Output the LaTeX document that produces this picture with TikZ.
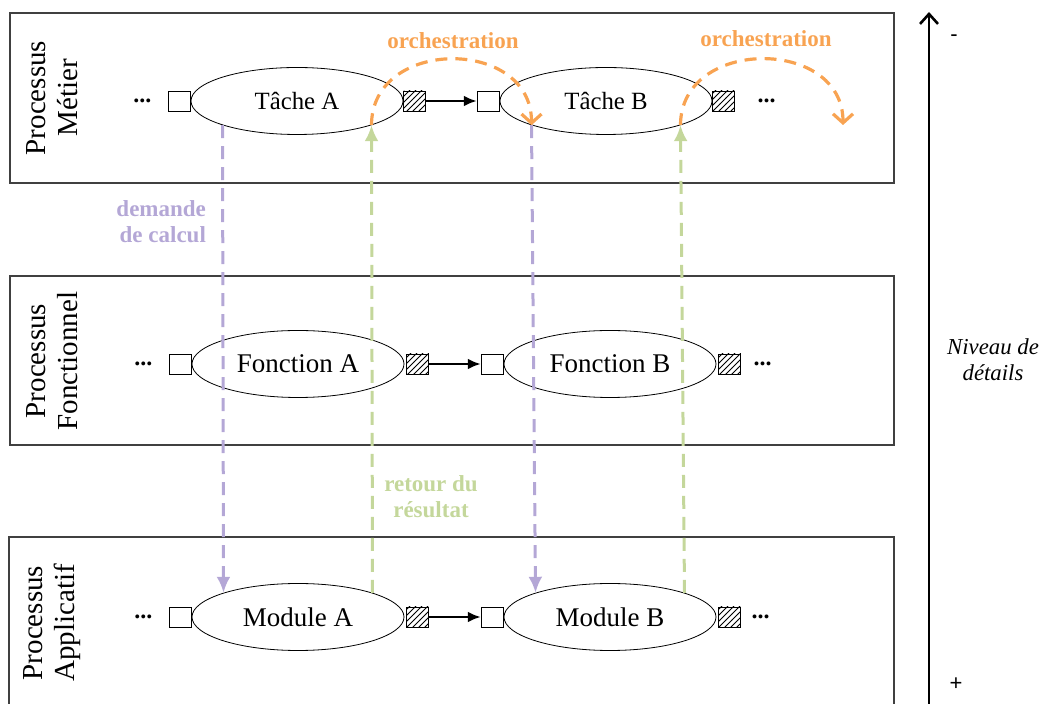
\documentclass[tikz,border=0pt]{standalone}
\usepackage{fontspec}
\setmainfont{Liberation Serif}
\newfontfamily\signes{Liberation Sans}
\usetikzlibrary{shapes.geometric,patterns,arrows.meta,positioning}
\definecolor{calcul}{RGB}{180,167,214}
\definecolor{retour}{RGB}{196,215,155}
\definecolor{orchestre}{RGB}{248,163,82}
\definecolor{cadre}{RGB}{64,64,64}

\begin{document}
\begin{tikzpicture}[x=0.5pt,y=-0.5pt,
  couche/.style={draw=cadre,line width=0.6pt},
  tache/.style={draw,ellipse,minimum width=106pt,minimum height=33.5pt,inner sep=0pt},
  entree/.style={draw,fill=white,minimum width=11pt,minimum height=10pt,inner sep=0pt},
  sortie/.style={draw,pattern=north east lines,minimum width=11pt,minimum height=10pt,inner sep=0pt},
  suite/.style={inner sep=0pt,font=\bfseries\fontsize{12}{14}\selectfont},
  enchainement/.style={-{Latex[length=6.5pt,width=5.5pt]},line width=1.4pt},
  demande/.style={calcul,line width=1.5pt,dash pattern=on 6.5pt off 4pt,-{Latex[length=8pt,width=7pt]}},
  resultat/.style={retour,line width=1.5pt,dash pattern=on 6.5pt off 4pt,-{Latex[length=8pt,width=7pt]}},
  orch/.style={orchestre,line width=1.6pt,dash pattern=on 6pt off 4pt,-{Straight Barb[length=4.5pt,width=10pt,line width=1.6pt]}},
  etiquette/.style={font=\bfseries\fontsize{11.5}{13}\selectfont}]
\useasboundingbox (0,0) rectangle (1044,704);

% the three layers
\draw[couche] (10,13) rectangle (894,183);
\draw[couche] (10,276) rectangle (894,445);
\draw[couche] (9,704) -- (9,537) -- (894,537) -- (894,704);
\node[rotate=90,align=center,font=\fontsize{14.5}{16}\selectfont] (metier) at (52,98) {Processus\\Métier};
\node[rotate=90,align=center,font=\fontsize{14.5}{16}\selectfont] (fonctionnel) at (52,361) {Processus\\Fonctionnel};
\node[rotate=90,align=center,font=\fontsize{14.5}{16}\selectfont] (applicatif) at (52,623) {Processus\\Applicatif};

% business tasks
\node[tache,font=\fontsize{12.4}{14}\selectfont] (ta) at (297,101) {Tâche A};
\node[tache,font=\fontsize{12.4}{14}\selectfont] (tb) at (606,101) {Tâche B};
\node[entree,left=0pt of ta] (ta-in) {};
\node[sortie,right=0pt of ta] (ta-out) {};
\node[entree,left=0pt of tb] (tb-in) {};
\node[sortie,right=0pt of tb] (tb-out) {};
\node[suite,left=8pt of ta-in] (t-avant) {...};
\node[suite,right=11pt of tb-out] (t-apres) {...};
\draw[enchainement] (ta-out) -- (tb-in);

% functions
\node[tache,font=\fontsize{13.5}{15}\selectfont] (fa) at (298,364) {Fonction A};
\node[tache,font=\fontsize{13.5}{15}\selectfont] (fb) at (610,364) {Fonction B};
\node[entree,left=0pt of fa] (fa-in) {};
\node[sortie,right=1pt of fa] (fa-out) {};
\node[entree,left=0pt of fb] (fb-in) {};
\node[sortie,right=1pt of fb] (fb-out) {};
\node[suite,left=8pt of fa-in] (f-avant) {...};
\node[suite,right=6pt of fb-out] (f-apres) {...};
\draw[enchainement] (fa-out) -- (fb-in);

% modules
\node[tache,font=\fontsize{13.5}{15}\selectfont] (ma) at (298,617) {Module A};
\node[tache,font=\fontsize{13.5}{15}\selectfont] (mb) at (610,617) {Module B};
\node[entree,left=0pt of ma] (ma-in) {};
\node[sortie,right=1pt of ma] (ma-out) {};
\node[entree,left=0pt of mb] (mb-in) {};
\node[sortie,right=1pt of mb] (mb-out) {};
\node[suite,left=8pt of ma-in] (m-avant) {...};
\node[suite,right=5pt of mb-out] (m-apres) {...};
\draw[enchainement] (ma-out) -- (mb-in);

% calls down and results back up
\draw[demande] (ta.198) -- (ma.162);
\draw[resultat] (ma.18) -- (ta.-18);
\draw[demande] (tb.198) -- (mb.162);
\draw[resultat] (mb.18) -- (tb.-18);
\node[etiquette,text=calcul,anchor=east,align=right] (l-calcul) at (213,222) {demande\\de calcul};
\node[etiquette,text=retour,align=center] (l-retour) at (431,497) {retour du\\résultat};

% orchestration
\coordinate (t-suivante) at (843,125);
\draw[orch] (ta.-18) .. controls +(0,-88) and +(0,-88) .. (tb.198);
\draw[orch] (tb.-18) .. controls +(0,-88) and +(0,-88) .. (t-suivante);
\node[etiquette,text=orchestre] (l-orch1) at (453,41) {orchestration};
\node[etiquette,text=orchestre] (l-orch2) at (766,39) {orchestration};

% level of detail
\coordinate (bas) at (929,704);
\coordinate (haut) at (929,12);
\draw[line width=1.3pt,-{Straight Barb[length=5pt,width=9pt]}] (bas) -- (haut);
\node[font=\signes\fontsize{11}{13}\selectfont] (moins) at (954,38) {-};
\node[font=\signes\fontsize{11}{13}\selectfont] (plus) at (956,684) {+};
\node[align=center,font=\itshape\fontsize{11.4}{13}\selectfont] (niveau) at (993,360) {Niveau de\\détails};
\end{tikzpicture}
\end{document}
